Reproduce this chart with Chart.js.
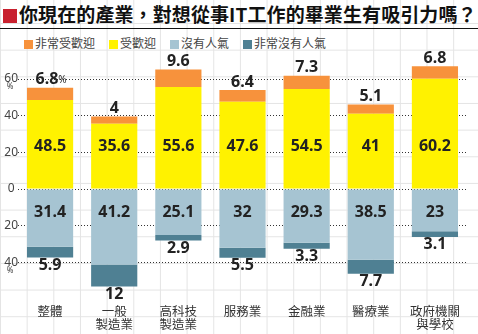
<!DOCTYPE html>
<html>
<head>
<meta charset="utf-8">
<script src="https://cdn.jsdelivr.net/npm/chart.js@4"></script>
<style>
  html, body { margin: 0; padding: 0; }
  body {
    width: 478px; height: 334px; position: relative; overflow: hidden;
    background-color: #fff;
    background-image:
      linear-gradient(to right, #e4e4e4 1px, transparent 1px),
      linear-gradient(to bottom, #e4e4e4 1px, transparent 1px);
    background-size: 26.67px 26.67px;
    background-position: 0px 23px;
    font-family: "Noto Sans CJK TC", "Noto Sans", sans-serif;
  }
  .title {
    position: absolute; left: 0; top: 0; width: 478px; height: 28px;
    border-bottom: 1.5px solid #111;
    font-weight: bold; font-size: 19px; line-height: 28px; color: #111;
    white-space: nowrap; letter-spacing: 0.1px;
  }
  .title i {
    display: inline-block; width: 14px; height: 14px; background: #c8202e;
    margin: 0 2px 0 3px; vertical-align: -1px;
  }
  .legend { position: absolute; left: 24px; top: 34px; font-size: 12px; color: #444; white-space: nowrap; }
  .legend span { display: inline-block; margin-right: 14px; }
  .legend b { display: inline-block; width: 9px; height: 9px; margin-right: 2px; vertical-align: -1px; }
  #chart { position: absolute; left: 0; top: 50px; }
</style>
</head>
<body>
<div class="title"><i></i>你現在的產業，對想從事IT工作的畢業生有吸引力嗎？</div>
<div class="legend" id="legend"></div>
<canvas id="chart" width="478" height="284"></canvas>
<script>
// 產業
const categories = [['整體'], ['一般', '製造業'], ['高科技', '製造業'], ['服務業'], ['金融業'], ['醫療業'], ['政府機關', '與學校']];

// 百分比
const veryPopular = [6.8, 4, 9.6, 6.4, 7.3, 5.1, 6.8];
const popular = [48.5, 35.6, 55.6, 47.6, 54.5, 41, 60.2];
const unpopular = [31.4, 41.2, 25.1, 32, 29.3, 38.5, 23];
const veryUnpopular = [5.9, 12, 2.9, 5.5, 3.3, 7.7, 3.1];

const yTicks = [-40, -20, 0, 20, 40, 60];

const colors = {
  veryPopular: '#f7923c',
  popular: '#fff200',
  unpopular: '#a6c4d2',
  veryUnpopular: '#4f8093'
};

// legend (HTML)
const legendItems = [
  ['非常受歡迎', colors.veryPopular],
  ['受歡迎', colors.popular],
  ['沒有人氣', colors.unpopular],
  ['非常沒有人氣', colors.veryUnpopular]
];
document.getElementById('legend').innerHTML = legendItems
  .map(it => `<span><b style="background:${it[1]}"></b>${it[0]}</span>`).join('');

// value labels drawn on top of the bars
const valueLabels = {
  id: 'valueLabels',
  afterDatasetsDraw(chart) {
    const ctx = chart.ctx;
    const x = chart.scales.x;
    const y = chart.scales.y;
    ctx.save();
    ctx.fillStyle = '#222';
    ctx.textAlign = 'center';
    ctx.textBaseline = 'middle';
    const bold = 'bold 16px "Noto Sans", sans-serif';
    categories.forEach((c, i) => {
      const cx = x.getPixelForValue(i);
      ctx.font = bold;
      // top
      const top = y.getPixelForValue(popular[i] + veryPopular[i]);
      if (i === 0) {
        const t = String(veryPopular[i]);
        const w1 = ctx.measureText(t).width;
        ctx.font = '10px "Noto Sans", sans-serif';
        const w2 = ctx.measureText('%').width;
        const sx = cx - (w1 + w2) / 2 + 1;
        ctx.textAlign = 'left';
        ctx.fillText('%', sx + w1, top - 7);
        ctx.font = bold;
        ctx.fillText(t, sx, top - 8);
        ctx.textAlign = 'center';
      } else {
        ctx.fillText(String(veryPopular[i]), cx, top - 8);
      }
      ctx.fillText(String(popular[i]), cx, y.getPixelForValue(23));
      ctx.fillText(String(unpopular[i]), cx, y.getPixelForValue(-13));
      const bottom = y.getPixelForValue(-(unpopular[i] + veryUnpopular[i]));
      ctx.fillText(String(veryUnpopular[i]), cx, bottom + 8);
    });
    // small % marks under the axis labels
    ctx.font = '8px "Noto Sans", sans-serif';
    ctx.fillStyle = '#444';
    ctx.fillText('%', 10, y.getPixelForValue(60) + 8);
    ctx.fillText('%', 10, y.getPixelForValue(-40) + 8);
    ctx.restore();
  }
};

new Chart(document.getElementById('chart'), {
  type: 'bar',
  data: {
    labels: categories,
    datasets: [
      { label: '受歡迎', data: popular, backgroundColor: colors.popular },
      { label: '非常受歡迎', data: veryPopular, backgroundColor: colors.veryPopular },
      { label: '沒有人氣', data: unpopular.map(v => -v), backgroundColor: colors.unpopular },
      { label: '非常沒有人氣', data: veryUnpopular.map(v => -v), backgroundColor: colors.veryUnpopular }
    ]
  },
  options: {
    responsive: false,
    animation: false,
    devicePixelRatio: 1,
    layout: { padding: { top: 10.7, right: 11, bottom: 2, left: 0 } },
    datasets: { bar: { categoryPercentage: 1, barPercentage: 0.72, borderWidth: 0 } },
    plugins: { legend: { display: false }, tooltip: { enabled: false } },
    scales: {
      x: {
        stacked: true,
        afterFit(scale) { scale.height = 30; },
        grid: { display: false },
        border: { display: false },
        ticks: {
          color: '#333', padding: -5, maxRotation: 0, autoSkip: false,
          font: { family: '"Noto Sans CJK TC", sans-serif', size: 12.5, lineHeight: 1.05 }
        }
      },
      y: {
        stacked: true,
        min: -61.6,
        max: 70,
        afterFit(scale) { scale.width = 18; },
        afterBuildTicks(scale) { scale.ticks = yTicks.map(v => ({ value: v })); },
        grid: { color: '#333', lineWidth: 1, drawTicks: false },
        border: { display: false, dash: [1, 2] },
        ticks: {
          color: '#444', padding: 0, crossAlign: 'center',
          font: { family: '"Noto Sans", sans-serif', size: 12 },
          callback: v => Math.abs(v)
        }
      }
    }
  },
  plugins: [valueLabels]
});
</script>
</body>
</html>
